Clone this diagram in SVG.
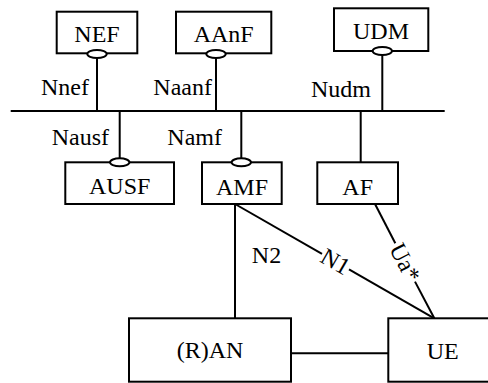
<svg xmlns="http://www.w3.org/2000/svg" width="488" height="383" viewBox="0 0 488 383">
<style>
.box{fill:#fff;stroke:#000;stroke-width:2}
.ln{stroke:#000;stroke-width:2;fill:none}
.el{fill:#fff;stroke:#000;stroke-width:2}
text{font-family:"Liberation Serif","Times New Roman",serif;font-size:24px;fill:#000}
.c{text-anchor:middle}
.e{text-anchor:end}
</style>
<rect width="488" height="383" fill="#fff"/>
<g id="connectors">
<line class="ln" x1="10.7" y1="111" x2="444.7" y2="111"/>
<line class="ln" x1="97" y1="54" x2="97" y2="111"/>
<line class="ln" x1="216" y1="54" x2="216" y2="111"/>
<line class="ln" x1="382.3" y1="51" x2="382.3" y2="111"/>
<line class="ln" x1="119.7" y1="111" x2="119.7" y2="162"/>
<line class="ln" x1="241.3" y1="111" x2="241.3" y2="162"/>
<line class="ln" x1="360.7" y1="111" x2="360.7" y2="162"/>
<line class="ln" x1="235" y1="204" x2="235" y2="318"/>
<line class="ln" x1="291" y1="353.3" x2="388.3" y2="353.3"/>
<line class="ln" x1="235" y1="204" x2="322" y2="253.8"/>
<line class="ln" x1="349" y1="269.3" x2="434.3" y2="318.3"/>
<line class="ln" x1="375" y1="204" x2="395.3" y2="243.3"/>
<line class="ln" x1="415" y1="281.6" x2="434.3" y2="318.3"/>
<text x="89" y="95" class="e">Nnef</text>
<text x="212" y="95" class="e">Naanf</text>
<text x="371" y="97" class="e">Nudm</text>
<text x="109" y="145" class="e">Nausf</text>
<text x="222" y="145" class="e">Namf</text>
<text x="266.5" y="263" class="c">N2</text>
<text class="c" transform="translate(335.5,261.5) rotate(29.8)" y="8">N1</text>
<text class="c" transform="translate(405,262.5) rotate(62.6)" y="8">Ua*</text>
</g>
<g id="NEF">
<rect class="box" x="56.7" y="11.7" width="80.6" height="41.6"/>
<text x="97" y="42" class="c">NEF</text>
<ellipse class="el" cx="97" cy="54" rx="9.7" ry="4"/>
</g>
<g id="AAnF">
<rect class="box" x="176" y="11.7" width="95.3" height="41.6"/>
<text x="223.7" y="42" class="c">AAnF</text>
<ellipse class="el" cx="216" cy="54" rx="9.7" ry="4"/>
</g>
<g id="UDM">
<rect class="box" x="334" y="8.3" width="94.3" height="42.7"/>
<text x="381" y="38.5" class="c">UDM</text>
<ellipse class="el" cx="382.3" cy="51" rx="9.7" ry="4"/>
</g>
<g id="AUSF">
<rect class="box" x="65.3" y="162.3" width="108.7" height="41.7"/>
<text x="119.7" y="194" class="c">AUSF</text>
<ellipse class="el" cx="119.7" cy="162.3" rx="9.7" ry="4"/>
</g>
<g id="AMF">
<rect class="box" x="202" y="162.3" width="79.7" height="41.7"/>
<text x="242" y="195" class="c">AMF</text>
<ellipse class="el" cx="241.3" cy="162.3" rx="9.7" ry="4"/>
</g>
<g id="AF">
<rect class="box" x="317.3" y="162.3" width="80.7" height="41.7"/>
<text x="357.7" y="195" class="c">AF</text>
</g>
<g id="RAN">
<rect class="box" x="129" y="318.3" width="162" height="63.4"/>
<text x="210" y="358.3" class="c">(R)AN</text>
</g>
<g id="UE">
<rect class="box" x="388.3" y="318.3" width="110" height="63.4"/>
<text x="442.7" y="359" class="c">UE</text>
</g>
</svg>
